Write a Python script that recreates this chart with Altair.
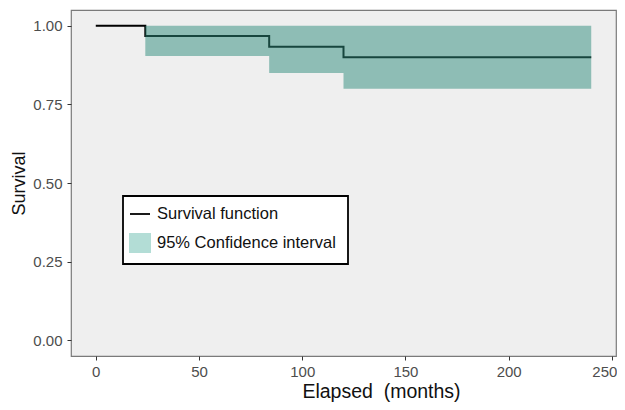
import altair as alt
import pandas as pd

# Survival step function (months, survival)
surv_time = [0, 24, 84, 120, 240]
surv_value = [1.0, 0.967, 0.933, 0.900, 0.900]

# 95% confidence interval (step-after)
ci_time = [24, 84, 120, 240]
ci_lower = [0.904, 0.850, 0.800, 0.800]
ci_upper = [1.0, 1.0, 1.0, 1.0]

x_ticks = [0, 50, 100, 150, 200, 250]
y_ticks = [0.0, 0.25, 0.5, 0.75, 1.0]

legend_labels = ["Survival function", "95% Confidence interval"]

surv_df = pd.DataFrame({"t": surv_time, "s": surv_value})
ci_df = pd.DataFrame({"t": ci_time, "lo": ci_lower, "hi": ci_upper})

W, H = 545, 346
FONT = "Liberation Sans"

xscale = alt.Scale(domain=[-12, 252], nice=False, zero=False)
yscale = alt.Scale(domain=[-0.05, 1.05], nice=False, zero=False)

xaxis = alt.Axis(values=x_ticks, title="Elapsed\u00a0 (months)", grid=False, domain=False,
                 tickColor="#333333", tickSize=4, labelColor="#4d4d4d", labelFontSize=15,
                 labelFont=FONT, titleFont=FONT, titleFontSize=19.5, titleFontWeight="normal",
                 titleColor="#111111", labelPadding=4,
                 labelAlign=alt.expr("datum.value == 250 ? 'right' : 'center'"),
                 labelOffset=alt.expr("datum.value == 250 ? 5 : 0"),
                 titleX=310, titleY=41.5, titleAlign="center", titleBaseline="alphabetic")
yaxis = alt.Axis(values=y_ticks, format=".2f", title="Survival", grid=False, domain=False,
                 tickColor="#333333", tickSize=4, labelColor="#4d4d4d", labelFontSize=15,
                 labelFont=FONT, titleFont=FONT, titleFontSize=18, titleFontWeight="normal",
                 titleColor="#111111", labelPadding=5,
                 titleX=-47, titleY=173, titleAlign="center", titleBaseline="alphabetic",
                 titleAngle=270)

line = alt.Chart(surv_df).mark_line(interpolate="step-after", color="#000000", strokeWidth=2).encode(
    x=alt.X("t:Q", scale=xscale, axis=xaxis),
    y=alt.Y("s:Q", scale=yscale, axis=yaxis),
)

band = alt.Chart(ci_df).mark_area(interpolate="step-after", color="#2e8c7c", opacity=0.5).encode(
    x=alt.X("t:Q", scale=xscale),
    y=alt.Y("lo:Q", scale=yscale),
    y2="hi:Q",
)

# Manual legend box
one = pd.DataFrame({"a": [0]})
legend_box = alt.Chart(one).mark_rect(
    fill="white", stroke="black", strokeWidth=1.8
).encode(x=alt.value(52), x2=alt.value(277), y=alt.value(186), y2=alt.value(254))

legend_line = alt.Chart(one).mark_rule(color="black", strokeWidth=1.8).encode(
    x=alt.value(59), x2=alt.value(79), y=alt.value(204)
)
legend_sq = alt.Chart(one).mark_rect(fill="#b3ddd6").encode(
    x=alt.value(58), x2=alt.value(80), y=alt.value(223), y2=alt.value(243)
)
legend_text1 = alt.Chart(pd.DataFrame({"label": [legend_labels[0]]})).mark_text(
    align="left", baseline="middle", font=FONT, fontSize=16.5, color="#111111"
).encode(x=alt.value(86), y=alt.value(204), text="label:N")
legend_text2 = alt.Chart(pd.DataFrame({"label": [legend_labels[1]]})).mark_text(
    align="left", baseline="middle", font=FONT, fontSize=16.5, color="#111111"
).encode(x=alt.value(86), y=alt.value(233), text="label:N")

chart = alt.layer(line, band, legend_box, legend_line, legend_sq, legend_text1, legend_text2).properties(
    width=W, height=H,
    background="white",
    padding={"left": 63, "top": 2, "right": 1, "bottom": 46},
    autosize=alt.AutoSizeParams(type="none"),
).configure_view(
    fill="#efefef", stroke="#7a7a7a", strokeWidth=1.2
)

chart.save("out.html", embed_options={"renderer": "svg", "actions": False})
